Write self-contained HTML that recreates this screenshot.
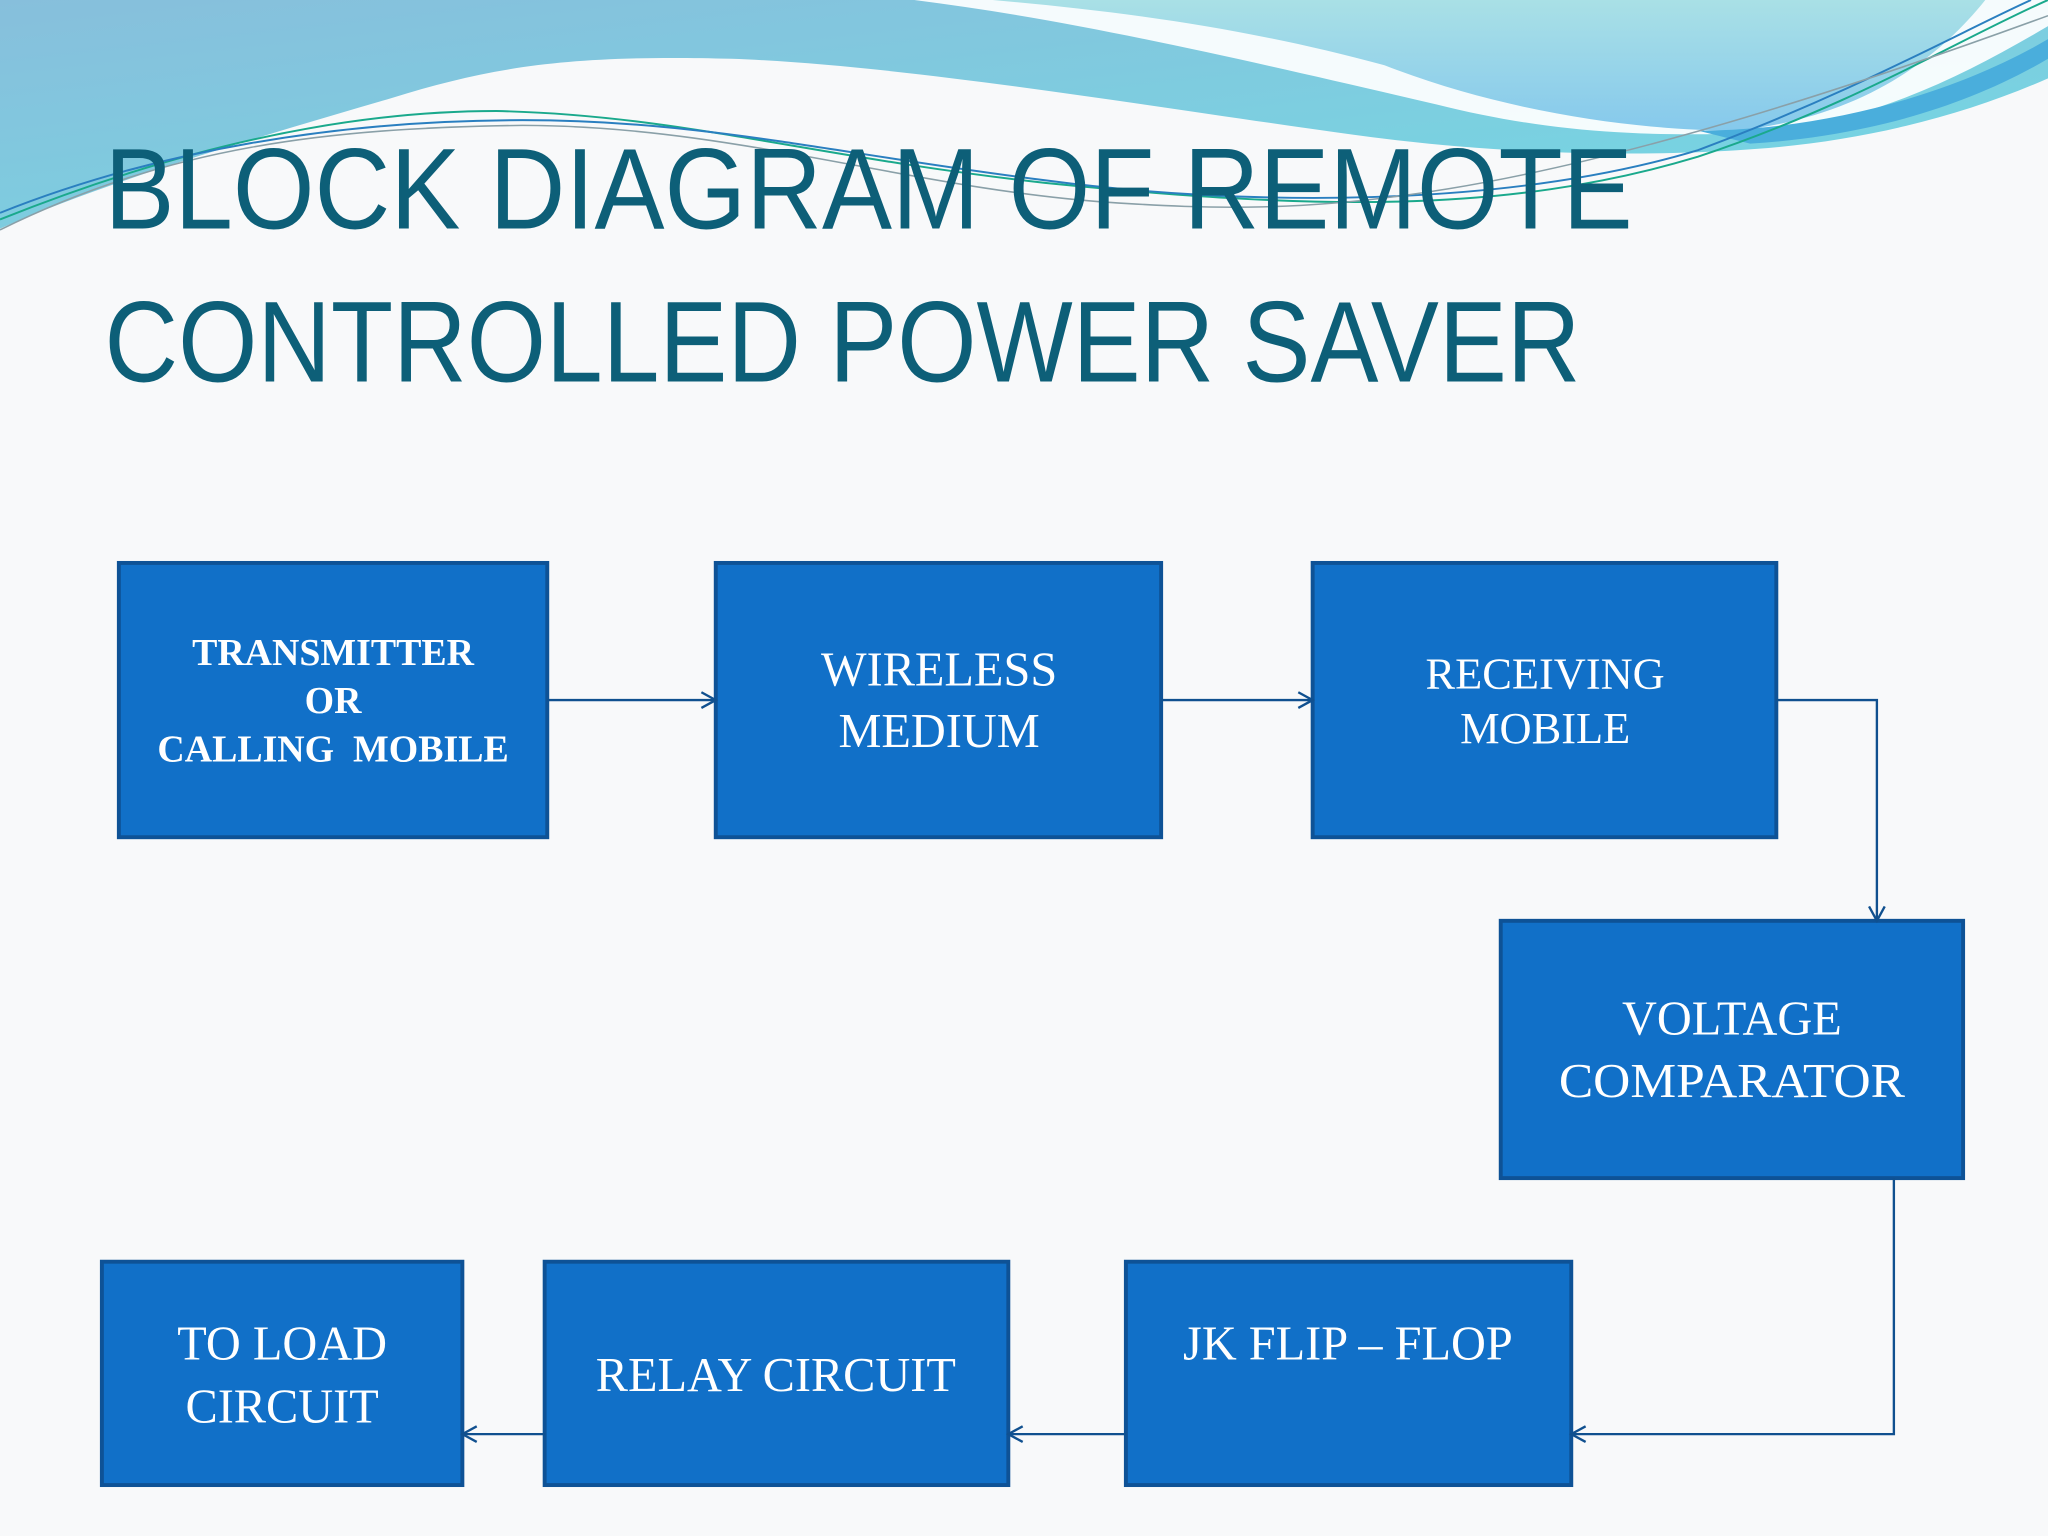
<!DOCTYPE html>
<html><head><meta charset="utf-8">
<style>
html,body{margin:0;padding:0;background:#f8f9fa;}
svg{display:block;}
.t{font-family:"Liberation Sans",sans-serif;fill:#0d5f78;font-size:88px;}
.b{font-family:"Liberation Serif",serif;fill:#fff;text-anchor:middle;}
</style></head><body>
<svg width="2048" height="1536" viewBox="0 0 1568 1176" xmlns="http://www.w3.org/2000/svg">
<defs>
<linearGradient id="g1" x1="0" y1="0" x2="1" y2="1">
<stop offset="0" stop-color="#87bfdc"/><stop offset="0.6" stop-color="#7ccfe0"/><stop offset="1" stop-color="#6fd8e4"/></linearGradient>
<linearGradient id="g2" x1="0" y1="0" x2="0" y2="1">
<stop offset="0" stop-color="#a9e0e6"/><stop offset="1" stop-color="#86c9ec"/></linearGradient>
<marker id="a" markerWidth="14" markerHeight="14" refX="12" refY="7" orient="auto" markerUnits="userSpaceOnUse">
<path d="M1,1 L12,7 L1,13" fill="none" stroke="#10508f" stroke-width="1.8"/></marker>
</defs>
<rect width="1568" height="1176" fill="#f8f9fa"/>
<!-- header waves -->
<path d="M0,0 L1568,0 L1568,60 C1500,90 1420,110 1330,115 C1250,120 1150,118 1050,105 C900,85 700,50 560,45 C440,42 380,50 300,75 C180,110 80,140 0,175 Z" fill="url(#g1)"/>
<path d="M700,0 L1568,0 L1568,20 C1500,60 1430,95 1340,102 C1250,105 1180,100 1100,80 C950,45 820,15 700,0 Z" fill="#fff" opacity="0.92"/>
<path d="M760,0 L1520,0 C1480,50 1420,90 1330,100 C1250,100 1150,85 1060,50 C950,20 850,8 760,0 Z" fill="url(#g2)"/>
<path d="M1300,100 C1400,100 1500,70 1568,30 L1568,45 C1500,85 1420,105 1340,110 Z" fill="#4aaedc"/>
<path d="M0,168 C120,120 250,85 380,85 C520,88 620,120 800,140 C1000,160 1150,165 1300,120 C1420,80 1500,30 1568,0" fill="none" stroke="#1aa98c" stroke-width="1.5"/>
<path d="M0,163 C120,115 260,92 400,92 C540,92 640,118 800,138 C950,158 1150,160 1300,115 C1420,70 1500,25 1555,0" fill="none" stroke="#2a7fc0" stroke-width="1.5"/>
<path d="M0,176 C130,112 250,98 400,96 C560,96 700,145 850,155 C1000,165 1150,165 1568,12" fill="none" stroke="#8aa0a8" stroke-width="1.2"/>
<!-- title -->
<text class="t" x="80" y="175" textLength="1170" lengthAdjust="spacingAndGlyphs">BLOCK DIAGRAM OF REMOTE</text>
<text class="t" x="80" y="292" textLength="1130" lengthAdjust="spacingAndGlyphs">CONTROLLED POWER SAVER</text>
<!-- boxes -->
<g fill="#1170c8" stroke="#0e5296" stroke-width="3">
<rect x="91" y="431" width="328" height="210"/>
<rect x="548" y="431" width="341" height="210"/>
<rect x="1005" y="431" width="355" height="210"/>
<rect x="1149" y="705" width="354" height="197"/>
<rect x="862" y="966" width="341" height="171"/>
<rect x="417" y="966" width="355" height="171"/>
<rect x="78" y="966" width="276" height="171"/>
</g>
<g class="b" font-weight="bold" font-size="29">
<text x="255" y="509">TRANSMITTER</text>
<text x="255" y="546">OR</text>
<text x="255" y="583" xml:space="preserve">CALLING  MOBILE</text>
</g>
<g class="b" font-size="37">
<text x="719" y="525">WIRELESS</text>
<text x="719" y="572">MEDIUM</text>
<text x="1183" y="527" font-size="34">RECEIVING</text>
<text x="1183" y="569" font-size="34">MOBILE</text>
<text x="1326" y="792">VOLTAGE</text>
<text x="1326" y="840" textLength="265" lengthAdjust="spacingAndGlyphs">COMPARATOR</text>
<text x="1032" y="1041">JK FLIP – FLOP</text>
<text x="594" y="1065">RELAY CIRCUIT</text>
<text x="216" y="1041">TO LOAD</text>
<text x="216" y="1089">CIRCUIT</text>
</g>
<!-- connectors -->
<g fill="none" stroke="#10508f" stroke-width="1.8">
<path d="M419,536 L548,536" marker-end="url(#a)"/>
<path d="M889,536 L1005,536" marker-end="url(#a)"/>
<path d="M1360,536 L1437,536 L1437,705" marker-end="url(#a)"/>
<path d="M1450,902 L1450,1098 L1203,1098" marker-end="url(#a)"/>
<path d="M862,1098 L772,1098" marker-end="url(#a)"/>
<path d="M417,1098 L354,1098" marker-end="url(#a)"/>
</g>
</svg>
</body></html>
